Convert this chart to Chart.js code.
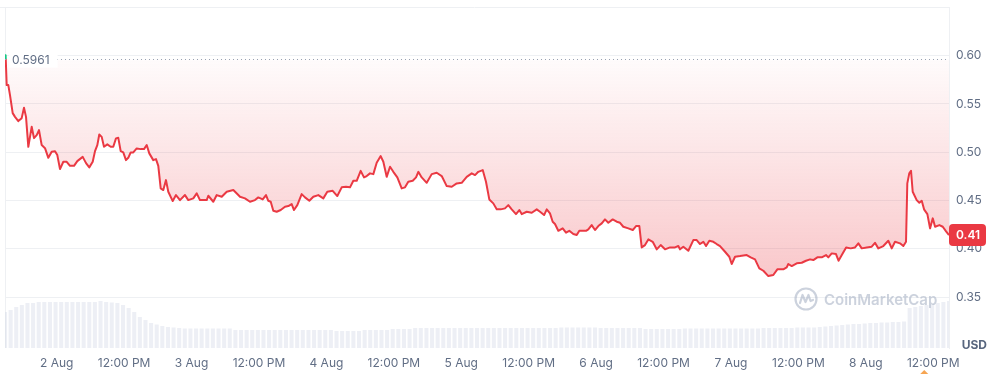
<!DOCTYPE html>
<html>
<head>
<meta charset="utf-8">
<script src="https://cdn.jsdelivr.net/npm/chart.js@4.4.1/dist/chart.umd.min.js"></script>
<style>
  html, body { margin: 0; padding: 0; background: #ffffff; }
  #wrap { width: 998px; height: 374px; }
</style>
</head>
<body>
<div id="wrap"><canvas id="c" width="998" height="374"></canvas></div>
<script>
// ---- data ----
const startPrice = 0.5961;

// hours since the start of the 7-day window
const hours = [0,0.11,0.30,0.59,0.89,1.37,1.78,2.37,2.97,3.38,
3.74,4.15,4.75,5.16,5.64,6.05,6.53,7.12,7.71,8.31,
8.90,9.31,9.79,10.38,10.98,11.57,12.28,12.87,13.83,14.42,
15.00,15.61,16.02,16.43,16.78,17.21,17.62,18.21,18.81,19.27,
19.75,20.16,20.59,21.05,21.53,21.94,22.37,22.83,23.44,24.15,
24.74,25.22,25.68,26.39,26.87,27.28,27.71,28.17,28.65,29.06,
29.85,30.43,31.14,32.03,32.62,33.51,34.12,34.70,35.90,36.18,
37.07,37.68,38.57,39.46,40.63,41.52,41.82,42.71,43.60,44.49,
45.08,45.86,46.45,46.86,47.29,47.75,48.35,49.07,49.83,50.42,
51.02,51.43,52.02,52.80,53.39,54.16,54.87,55.76,56.65,57.36,
58.32,59.14,59.92,60.69,61.40,61.99,62.59,63.30,63.89,64.37,
64.96,65.55,66.15,66.86,67.33,67.93,68.52,69.11,69.82,70.60,
71.19,71.77,72.56,73.15,73.56,74.16,75.05,75.94,76.83,77.72,
78.61,79.50,80.39,81.28,82.17,83.06,83.65,84.23,85.02,85.60,
86.19,86.90,87.51,88.22,88.98,89.57,90.18,90.94,91.53,91.96,
92.85,93.74,94.63,95.22,95.94,96.41,96.99,97.47,97.88,98.47,
99.25,99.84,100.43,101.14,101.75,102.21,103.40,103.81,104.41,105.00,
105.59,106.20,106.78,107.37,108.15,108.87,109.46,110.04,110.93,111.72,
112.30,112.89,113.31,113.90,114.49,115.27,115.98,116.69,117.46,118.35,
119.24,119.83,120.13,120.72,121.61,122.50,123.10,123.69,124.28,124.76,
125.35,126.06,126.66,127.25,128.14,128.90,129.33,129.92,130.81,132.00,
132.71,133.48,134.24,134.96,135.85,136.73,137.45,138.51,139.12,139.40,
140.01,140.90,141.79,142.55,143.27,143.85,144.57,145.35,146.11,146.52,
147.13,147.89,148.34,148.92,149.69,150.51,151.28,151.87,152.47,153.36,
154.25,154.83,155.42,156.31,157.20,157.81,158.39,159.28,159.87,160.35,
160.58,160.93,161.24,161.54,162.25,162.72,163.15,163.56,164.15,164.63,
165.11,165.52,166.29,166.89,167.48,168.00];

// price in USD at each of those hours
const prices = [0.5961,0.6005,0.5695,0.5695,0.5591,0.5405,0.5366,0.5322,0.5353,0.5460,
0.5366,0.5056,0.5263,0.5146,0.5177,0.5229,0.5074,0.5042,0.4942,0.5004,
0.5011,0.4970,0.4825,0.4901,0.4901,0.4859,0.4859,0.4908,0.4952,0.4887,
0.4843,0.4901,0.5011,0.5074,0.5184,0.5159,0.5056,0.5081,0.5056,0.5056,
0.5143,0.5149,0.5011,0.4998,0.4918,0.4942,0.4998,0.4998,0.5039,0.5032,
0.5032,0.5074,0.4988,0.4918,0.4929,0.4859,0.4625,0.4608,0.4711,0.4590,
0.4494,0.4556,0.4504,0.4556,0.4504,0.4522,0.4574,0.4504,0.4504,0.4549,
0.4487,0.4556,0.4538,0.4590,0.4608,0.4556,0.4538,0.4522,0.4487,0.4504,
0.4532,0.4511,0.4556,0.4497,0.4487,0.4393,0.4383,0.4401,0.4435,0.4442,
0.4463,0.4401,0.4452,0.4566,0.4532,0.4497,0.4538,0.4556,0.4522,0.4590,
0.4600,0.4546,0.4636,0.4642,0.4636,0.4704,0.4704,0.4807,0.4739,0.4753,
0.4781,0.4773,0.4890,0.4960,0.4901,0.4745,0.4849,0.4797,0.4739,0.4625,
0.4636,0.4694,0.4704,0.4739,0.4797,0.4739,0.4683,0.4773,0.4787,0.4753,
0.4649,0.4642,0.4677,0.4683,0.4745,0.4781,0.4763,0.4797,0.4815,0.4694,
0.4511,0.4470,0.4408,0.4408,0.4418,0.4452,0.4408,0.4359,0.4401,0.4359,
0.4383,0.4373,0.4408,0.4383,0.4349,0.4408,0.4366,0.4280,0.4256,0.4186,
0.4211,0.4166,0.4186,0.4152,0.4142,0.4186,0.4186,0.4201,0.4245,0.4194,
0.4235,0.4263,0.4304,0.4269,0.4304,0.4280,0.4269,0.4228,0.4211,0.4194,
0.4235,0.4235,0.4014,0.4038,0.4097,0.4072,0.3994,0.4038,0.3994,0.4014,
0.4014,0.4028,0.3994,0.4021,0.3979,0.4090,0.4090,0.4049,0.4072,0.4028,
0.4083,0.4072,0.4049,0.4028,0.3969,0.3917,0.3842,0.3917,0.3924,0.3935,
0.3911,0.3890,0.3797,0.3772,0.3717,0.3728,0.3787,0.3787,0.3807,0.3842,
0.3821,0.3849,0.3855,0.3876,0.3890,0.3883,0.3911,0.3911,0.3935,0.3911,
0.3952,0.3945,0.3876,0.3935,0.4014,0.4004,0.4014,0.4056,0.4004,0.4014,
0.4021,0.4062,0.4004,0.4028,0.4083,0.4004,0.4072,0.4056,0.4028,0.4072,
0.4677,0.4781,0.4807,0.4590,0.4504,0.4476,0.4497,0.4408,0.4359,0.4211,
0.4315,0.4228,0.4245,0.4228,0.4180,0.4142];

// hourly volume (relative units), hour 0..168
const volumes = [
36,38,41,43,45,45,46,46,46,46,
46,46,46,46,46,46,46,47,46,45.5,
45,43,40,36,31,28,25,23.5,22,21,
20.5,20,19.5,19.5,19.5,19.5,19.5,19.5,19.5,19.5,
19.5,18,18,18,18,18,18,18,18,18,
18,18,18,18,18,18,18,18,18,17,
17,17,17,17,18,18,18,18,18,19,
19,19,19,20,20,20,20,20,20,20,
20,20,20,20,20,20,20,20,20,20,
20,20,20,20,20,20,20,20,20,20.5,
20.5,20.5,20.5,20.5,20.5,20.5,20,20,20,20,
20,20,20,20,19,19,19,19,19,19,
19,19.5,19.5,19.5,19.5,19.5,19.5,19.5,19.5,19.5,
19.5,19.5,19.5,19.5,19.5,20,20,20,20,20,
20,20.5,20.5,20.5,20.5,21,21.5,22,22.5,23,
23.5,24,24,24.5,25,25,25.5,25.5,26,26,
26.5,40,41,42,43,44,45,46,47];

const tickHours  = [9.2, 21.2, 33.2, 45.2, 57.2, 69.2, 81.2, 93.2, 105.2, 117.2, 129.2, 141.2, 153.2, 165.2];
const tickLabels = ['2 Aug','12:00 PM','3 Aug','12:00 PM','4 Aug','12:00 PM','5 Aug','12:00 PM','6 Aug','12:00 PM','7 Aug','12:00 PM','8 Aug','12:00 PM'];
const priceTicks = [0.35, 0.40, 0.45, 0.50, 0.55, 0.60];
const eventHour = 163.6;

// ---- styling ----
const RED = '#ea3943', GREEN = '#16c784';
const GRID = '#eef0f3', LABEL = '#616e85';
Chart.defaults.font.family = 'Inter, "Noto Sans", sans-serif';

function lineColor(ctx) {
  const chart = ctx.chart, a = chart.chartArea;
  if (!a) return RED;
  const yb = chart.scales.y.getPixelForValue(startPrice);
  const t = Math.min(1, Math.max(0, (yb - a.top) / (a.bottom - a.top)));
  const g = chart.ctx.createLinearGradient(0, a.top, 0, a.bottom);
  g.addColorStop(0, GREEN); g.addColorStop(t, GREEN);
  g.addColorStop(t, RED); g.addColorStop(1, RED);
  return g;
}
function fillColor(ctx) {
  const chart = ctx.chart, a = chart.chartArea;
  if (!a) return 'rgba(234,57,67,0.1)';
  const y = chart.scales.y;
  const y0 = y.getPixelForValue(startPrice);
  const y1 = y.getPixelForValue(Math.min(...prices));
  const g = chart.ctx.createLinearGradient(0, y0, 0, y1);
  g.addColorStop(0, 'rgba(234,57,67,0.02)');
  g.addColorStop(1, 'rgba(234,57,67,0.28)');
  return g;
}

const overlay = {
  id: 'overlay',
  beforeDatasetsDraw(chart) {
    const {ctx, chartArea: a} = chart;
    ctx.save();
    ctx.strokeStyle = GRID; ctx.lineWidth = 1;
    ctx.beginPath();
    ctx.moveTo(a.left + 0.5, a.top); ctx.lineTo(a.left + 0.5, a.bottom);
    ctx.moveTo(0, Math.round(a.top) + 0.5); ctx.lineTo(a.right, Math.round(a.top) + 0.5);
    ctx.stroke();
    ctx.restore();
  },
  afterDatasetsDraw(chart) {
    const {ctx, chartArea: a, scales} = chart;
    const yb = Math.round(scales.y.getPixelForValue(startPrice)) + 0.5;
    ctx.save();
    ctx.strokeStyle = '#97a1b1'; ctx.lineWidth = 1; ctx.setLineDash([1, 3]);
    ctx.beginPath(); ctx.moveTo(a.left, yb); ctx.lineTo(a.right, yb); ctx.stroke();
    ctx.setLineDash([]);
    ctx.font = '12px Inter, sans-serif';
    const txt = startPrice.toFixed(4);
    const w = ctx.measureText(txt).width;
    ctx.fillStyle = '#ffffff';
    ctx.fillRect(a.left + 4, yb - 8, w + 11, 16);
    ctx.fillStyle = LABEL; ctx.textBaseline = 'middle'; ctx.textAlign = 'left';
    ctx.fillText(txt, a.left + 7, yb + 1);
    ctx.restore();
  },
  afterDraw(chart) {
    const {ctx, chartArea: a, scales} = chart;
    ctx.save();
    // watermark
    const cx = a.right - 143, cy = a.bottom - 49;
    ctx.strokeStyle = 'rgba(170,180,198,0.6)'; ctx.lineWidth = 2.2;
    ctx.lineJoin = 'round'; ctx.lineCap = 'round';
    ctx.beginPath(); ctx.arc(cx, cy, 10.5, 0, Math.PI * 2); ctx.stroke();
    ctx.beginPath();
    ctx.moveTo(cx - 6, cy + 4); ctx.lineTo(cx - 3.5, cy - 4); ctx.lineTo(cx - 0.5, cy + 3);
    ctx.lineTo(cx + 2.5, cy - 4); ctx.lineTo(cx + 4.5, cy + 2); ctx.lineTo(cx + 7, cy + 1);
    ctx.stroke();
    ctx.fillStyle = 'rgba(170,180,198,0.6)';
    ctx.font = '600 15px Inter, sans-serif'; ctx.textBaseline = 'middle'; ctx.textAlign = 'left';
    ctx.fillText('CoinMarketCap', cx + 18, cy + 1);
    // current price tag
    const last = prices[prices.length - 1];
    const yl = scales.y.getPixelForValue(last);
    ctx.fillStyle = RED;
    ctx.beginPath(); ctx.roundRect(a.right, yl - 11, 37, 22, 4); ctx.fill();
    ctx.fillStyle = '#ffffff'; ctx.font = '600 12px Inter, sans-serif';
    ctx.fillText(last.toFixed(2), a.right + 7, yl + 0.5);
    // currency
    ctx.fillStyle = '#58667e'; ctx.font = 'bold 12px Inter, sans-serif'; ctx.textAlign = 'right';
    ctx.fillText('USD', chart.width - 11, a.bottom - 3);
    // event marker
    const mx = scales.x.getPixelForValue(eventHour);
    ctx.fillStyle = '#f6a552';
    ctx.beginPath(); ctx.moveTo(mx - 4, chart.height); ctx.lineTo(mx + 4, chart.height); ctx.lineTo(mx, chart.height - 4); ctx.closePath(); ctx.fill();
    ctx.restore();
  }
};

new Chart(document.getElementById('c'), {
  type: 'line',
  data: {
    datasets: [
      {
        type: 'line',
        data: hours.map((h, i) => ({x: h, y: prices[i]})),
        yAxisID: 'y',
        borderColor: lineColor,
        backgroundColor: fillColor,
        borderWidth: 2,
        pointRadius: 0,
        tension: 0,
        borderJoinStyle: 'round',
        fill: {value: startPrice},
        order: 0
      },
      {
        type: 'bar',
        data: volumes.map((v, i) => ({x: i, y: v})),
        yAxisID: 'yv',
        backgroundColor: 'rgba(207,214,228,0.38)',
        borderWidth: 0,
        barPercentage: 1,
        categoryPercentage: 0.72,
        order: 1
      }
    ]
  },
  options: {
    responsive: false,
    devicePixelRatio: 1,
    animation: false,
    layout: { padding: { left: 5, top: 7, right: 0, bottom: 0 } },
    plugins: { legend: { display: false }, tooltip: { enabled: false } },
    scales: {
      x: {
        type: 'linear', min: 0, max: 168, offset: false,
        grid: { display: false, drawTicks: false },
        border: { display: false },
        afterBuildTicks: s => { s.ticks = tickHours.map(v => ({value: v})); },
        afterFit: s => { s.height = 26; },
        ticks: {
          autoSkip: false, maxRotation: 0, padding: 8,
          color: LABEL, font: { size: 12 },
          callback: (v, i) => tickLabels[i]
        }
      },
      y: {
        position: 'right', min: 0.2972, max: 0.6502,
        grid: { color: GRID, drawTicks: true, tickLength: 7, tickColor: 'rgba(0,0,0,0)' },
        border: { display: true, color: GRID },
        afterBuildTicks: s => { s.ticks = priceTicks.map(v => ({value: v})); },
        afterFit: s => { s.width = 49; },
        ticks: {
          autoSkip: false, padding: 0, color: LABEL, font: { size: 12 },
          callback: v => v.toFixed(2)
        }
      },
      yv: { display: false, min: 0, max: 341 }
    }
  },
  plugins: [overlay]
});
</script>
</body>
</html>
